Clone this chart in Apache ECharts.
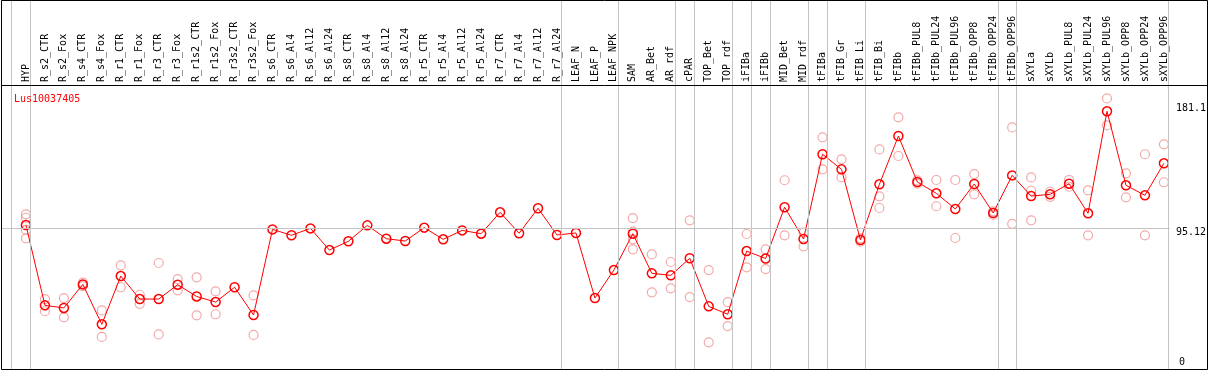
<!DOCTYPE html>
<html>
<head>
<meta charset="utf-8">
<script src="https://cdn.jsdelivr.net/npm/echarts@6/dist/echarts.min.js"></script>
<style>
html,body{margin:0;padding:0;background:#fff;}
#c{width:1209px;height:370px;}
</style>
</head>
<body>
<div id="c"></div>
<script>
const categories = ["HYP","R_s2_CTR","R_s2_Fox","R_s4_CTR","R_s4_Fox","R_r1_CTR","R_r1_Fox","R_r3_CTR","R_r3_Fox","R_r1s2_CTR","R_r1s2_Fox","R_r3s2_CTR","R_r3s2_Fox","R_s6_CTR","R_s6_Al4","R_s6_Al12","R_s6_Al24","R_s8_CTR","R_s8_Al4","R_s8_Al12","R_s8_Al24","R_r5_CTR","R_r5_Al4","R_r5_Al12","R_r5_Al24","R_r7_CTR","R_r7_Al4","R_r7_Al12","R_r7_Al24","LEAF_N","LEAF_P","LEAF_NPK","SAM","AR_Bet","AR_rdf","cPAR","TOP_Bet","TOP_rdf","iFIBa","iFIBb","MID_Bet","MID_rdf","tFIBa","tFIB_Gr","tFIB_Li","tFIB_Bi","tFIBb","tFIBb_PUL8","tFIBb_PUL24","tFIBb_PUL96","tFIBb_OPP8","tFIBb_OPP24","tFIBb_OPP96","sXYLa","sXYLb","sXYLb_PUL8","sXYLb_PUL24","sXYLb_PUL96","sXYLb_OPP8","sXYLb_OPP24","sXYLb_OPP96"];

const meanValues = [97.5,41.6,39.8,56.2,28.4,62.0,46.0,46.0,56.0,47.8,
  43.9,54.2,34.9,94.5,90.4,95.2,80.1,86.2,97.3,88.0,
  86.4,95.7,87.6,93.8,91.5,106.4,91.8,109.2,90.6,92.0,
  46.7,66.2,91.5,63.9,62.5,74.4,40.9,35.4,79.4,74.2,
  109.9,87.8,146.8,136.3,87.1,125.9,159.5,127.5,119.6,108.7,
  126.1,105.9,132.1,117.7,118.9,126.3,105.7,176.7,125.2,118.2,140.5];

const N = null;
const rep1 = [105.0,46.0,46.7,57.4,38.1,69.5,49.0,71.1,59.9,61.1,
  51.4,N,48.6,N,N,N,N,N,N,N,
  N,N,N,N,N,N,N,N,N,N,
  N,N,102.4,77.1,71.8,100.8,66.2,43.9,91.3,80.6,
  128.7,92.2,158.6,143.3,88.3,150.2,172.5,128.6,128.9,128.9,
  133.0,107.1,165.5,130.7,120.7,128.9,121.7,185.7,133.5,146.8,153.7];
const rep2 = [102.6,37.5,33.3,55.0,19.6,54.2,42.7,21.4,52.1,34.7,
  35.4,N,21.0,N,N,N,N,N,N,N,
  N,N,N,N,N,N,N,N,N,N,
  N,N,92.9,50.7,53.5,47.4,15.9,27.2,68.1,66.9,
  90.4,82.7,136.3,130.7,85.9,117.5,145.6,126.4,110.6,88.5,
  118.9,104.6,98.4,121.4,117.2,124.2,90.4,166.9,116.8,90.4,127.3];
const rep3 = [94.1,N,N,N,N,N,N,N,N,N,
  N,N,N,N,N,N,N,N,N,N,
  N,N,N,N,N,N,N,N,N,N,
  N,N,87.6,N,N,N,N,N,N,N,
  N,N,N,N,N,109.4,N,N,N,N,
  N,N,N,100.8,N,N,N,N,N,N,N];
const rep4 = [88.3,N,N,N,N,N,N,N,N,N,
  N,N,N,N,N,N,N,N,N,N,
  N,N,N,N,N,N,N,N,N,N,
  N,N,80.6,N,N,N,N,N,N,N,
  N,N,N,N,N,N,N,N,N,N,
  N,N,N,N,N,N,N,N,N,N,N];

// indices of the last category of each group (separator drawn after it)
const groupEnds = [-1,0,28,31,34,35,37,38,39,41,42,44,51,52,60];
const yTickLabels = [0, 95.12, 181.1];
const refLine = 95.12;
const geneName = "Lus10037405";

const FONT = "DejaVu Sans Mono";
const RED = "#ff0000";
const PINK = "#f09494";
const GRAY = "#c4c4c4";
const SEP_OFFSET = 4.5 / 19;

function pts(arr){ const o=[]; arr.forEach((v,i)=>{ if(v!==null) o.push([i,v]); }); return o; }

const chart = echarts.init(document.getElementById('c'), null, {renderer:'canvas'});
const sepLines = groupEnds.map(k => ({xAxis: k + SEP_OFFSET}));
sepLines.push({yAxis: refLine});

const repSeries = [rep1,rep2,rep3,rep4].map((r,idx)=>({
  type:'scatter', data: pts(r), symbol:'circle', symbolSize:9,
  itemStyle:{color:'rgba(0,0,0,0)', borderColor:PINK, borderWidth:1.2},
  z:2, silent:true,
  markLine: idx===0 ? {
    silent:true, symbol:['none','none'], label:{show:false},
    lineStyle:{color:GRAY, width:1, type:'solid'},
    emphasis:{disabled:true}, animation:false,
    data: sepLines
  } : undefined
}));

chart.setOption({
  animation:false,
  backgroundColor:'#fff',
  title:{text:geneName, left:9, top:89, textStyle:{color:RED, fontFamily:FONT, fontSize:10, fontWeight:'normal'}},
  grid:{left:1, right:37, top:0, bottom:1, containLabel:false},
  xAxis:{type:'value', position:'top', offset:-85,
    min:(1-26)/19, max:(1172-26)/19,
    axisLine:{show:false}, axisTick:{show:false}, splitLine:{show:false},
    axisLabel:{customValues:categories.map((c,i)=>i), formatter:v=>categories[Math.round(v)]||'',
      rotate:90, margin:3, fontFamily:FONT, fontSize:10, color:'#000', padding:[0,0,4,0]}
  },
  yAxis:{type:'value', position:'right', min:-2.7, max:254.2,
    axisLine:{show:false}, axisTick:{show:false}, splitLine:{show:false},
    axisLabel:{customValues:yTickLabels, margin:6, align:'left', fontFamily:FONT, fontSize:10, color:'#000',
      formatter:v=> v===0 ? '{z|0}' : '{n|'+v+'}',
      rich:{z:{fontFamily:FONT,fontSize:10,color:'#000',padding:[0,0,6,3]}, n:{fontFamily:FONT,fontSize:10,color:'#000',padding:[7,0,0,0]}}
    }
  },
  graphic:[
    {type:'rect', shape:{x:1.5,y:0.5,width:1206,height:369}, style:{fill:null, stroke:'#000', lineWidth:1}, silent:true, z:10},
    {type:'line', shape:{x1:1, y1:85.5, x2:1208, y2:85.5}, style:{stroke:'#000', lineWidth:1}, silent:true, z:10}
  ],
  series: repSeries.concat([{
    type:'line', data: pts(meanValues), symbol:'circle', symbolSize:9, showSymbol:true,
    lineStyle:{color:RED, width:1}, itemStyle:{color:'rgba(0,0,0,0)', borderColor:RED, borderWidth:1.5},
    z:3, silent:true
  }])
});
</script>
</body>
</html>
